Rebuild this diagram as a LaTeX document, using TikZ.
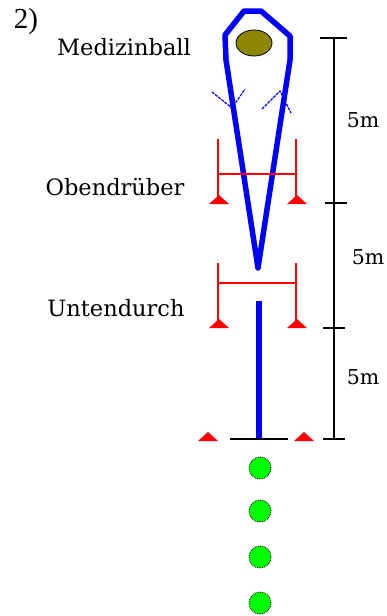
\documentclass[tikz,border=0pt]{standalone}
\usepackage{fontspec}
\setmainfont{DejaVu Serif}
\newfontfamily\timesf{Liberation Serif}
\usetikzlibrary{shapes.geometric}
\begin{document}
\begin{tikzpicture}[x=1pt,y=-1pt,
  route/.style={draw=blue, line width=5.5pt, line join=round},
  chevron/.style={draw=blue, line width=1.2pt, dash pattern=on 3pt off 1pt},
  gate/.style={draw=red, line width=1.8pt},
  scalebar/.style={draw=black, line width=1.4pt},
  lbl/.style={font=\fontsize{22.5}{22.5}\selectfont, inner sep=0pt},
  dist/.style={font=\fontsize{20.5}{20.5}\selectfont, inner sep=0pt},
  player/.style={circle, fill=green, draw=black, densely dotted, line width=0.8pt, minimum size=22pt, inner sep=0pt},
  ball/.style={ellipse, fill=olive, draw=black, line width=0.8pt, minimum width=36pt, minimum height=26pt, inner sep=0pt},
  pics/cone/.style={code={\fill[red] (-10,0) -- (10,0) -- (0,-9) -- cycle;}}
]
\useasboundingbox (0,0) rectangle (387,616);

% labels
\node[inner sep=0pt, font=\timesf\fontsize{29}{29}\selectfont] (num) at (26,22) {2)};
\node[lbl] (lmed) at (124,47) {Medizinball};
\node[lbl] (lob) at (115,187) {Obendrüber};
\node[lbl] (lun) at (116,308) {Untendurch};

% chevrons
\coordinate (c1a) at (212,92); \coordinate (c1t) at (232,108); \coordinate (c1b) at (245,89);
\coordinate (c2a) at (262,109); \coordinate (c2t) at (280,91); \coordinate (c2b) at (291,113);
\draw[chevron] (c1a) -- (c1t) -- (c1b);
\draw[chevron] (c2a) -- (c2t) -- (c2b);

% loop route
\coordinate (v) at (258,268);
\coordinate (l1) at (226,60); \coordinate (l2) at (225,35);
\coordinate (t1) at (244,11); \coordinate (t2) at (261,11);
\coordinate (r2) at (290,36); \coordinate (r1) at (290,60);
\draw[route] (v) -- (l1) -- (l2) -- (t1) -- (t2) -- (r2) -- (r1) -- cycle;
\node[ball] (ball) at (254,43) {};

% gates
\coordinate (g1l) at (218,139); \coordinate (g1lb) at (218,200);
\coordinate (g1r) at (296,139); \coordinate (g1rb) at (296,200);
\coordinate (g1cl) at (218,174); \coordinate (g1cr) at (296,174);
\draw[gate] (g1l) -- (g1lb); \draw[gate] (g1r) -- (g1rb); \draw[gate] (g1cl) -- (g1cr);
\pic at (219,204) {cone}; \pic at (297,204) {cone};

\coordinate (g2l) at (218,263); \coordinate (g2lb) at (218,324);
\coordinate (g2r) at (296,263); \coordinate (g2rb) at (296,324);
\coordinate (g2cl) at (218,283); \coordinate (g2cr) at (296,283);
\draw[gate] (g2l) -- (g2lb); \draw[gate] (g2r) -- (g2rb); \draw[gate] (g2cl) -- (g2cr);
\pic at (219,328) {cone}; \pic at (297,328) {cone};

% start
\coordinate (s1) at (259,301); \coordinate (s2) at (259,438);
\draw[blue, line width=6pt] (s1) -- (s2);
\coordinate (b1) at (230,439); \coordinate (b2) at (288,439);
\draw[scalebar] (b1) -- (b2);
\pic at (208,441) {cone}; \pic at (304,441) {cone};

% scale bar
\coordinate (sb0) at (334,38); \coordinate (sb3) at (334,439);
\draw[scalebar] (sb0) -- (sb3);
\draw[scalebar] (320,38) -- (347,38);
\draw[scalebar] (325,203) -- (347,203);
\draw[scalebar] (323,328) -- (345,328);
\draw[scalebar] (323,439) -- (345,439);
\node[dist] (d1) at (363,120) {5m};
\node[dist] (d2) at (368,257) {5m};
\node[dist] (d3) at (363,377) {5m};

% players
\node[player] (p1) at (260,468) {};
\node[player] (p2) at (260,511) {};
\node[player] (p3) at (260,557) {};
\node[player] (p4) at (260,603) {};
\end{tikzpicture}
\end{document}
